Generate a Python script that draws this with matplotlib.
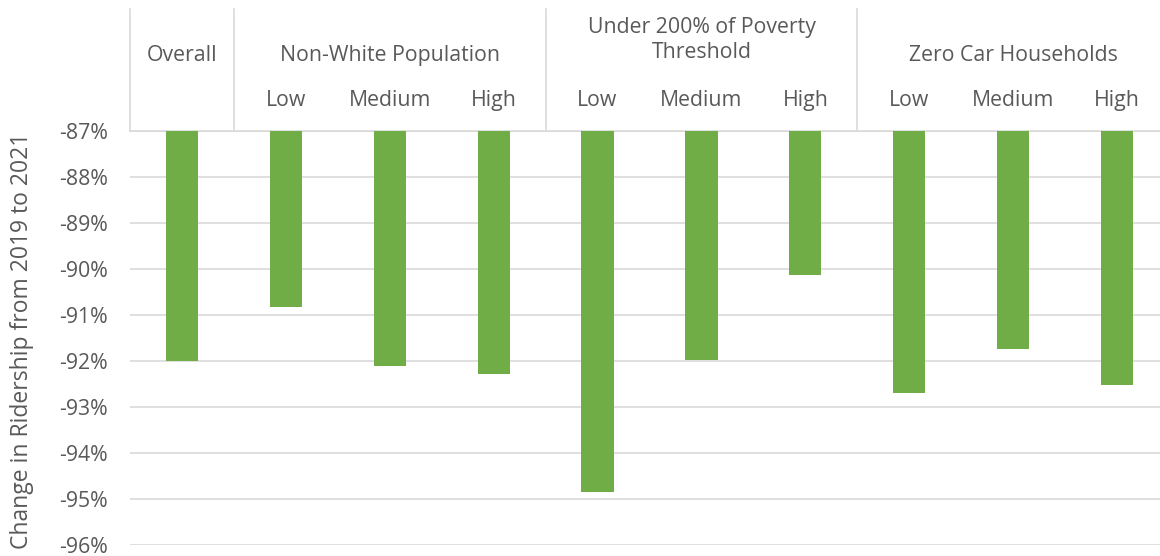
import numpy as np
import matplotlib
matplotlib.use('Agg')
import matplotlib.pyplot as plt
from matplotlib.ticker import FuncFormatter
import matplotlib.transforms as mtransforms

plt.rcParams['font.family'] = ['Open Sans', 'DejaVu Sans']

# --- Data ---
groups = ['Overall', 'Non-White Population', 'Under 200% of Poverty\nThreshold', 'Zero Car Households']
group_sizes = [1, 3, 3, 3]
levels = ['', 'Low', 'Medium', 'High', 'Low', 'Medium', 'High', 'Low', 'Medium', 'High']
values = [-92.0, -90.82, -92.11, -92.28, -94.85, -91.98, -90.12, -92.69, -91.74, -92.53]
y_ticks = [-87, -88, -89, -90, -91, -92, -93, -94, -95, -96]
y_label = 'Change in Ridership from 2019 to 2021'

text_color = '#595959'
grid_color = '#D9D9D9'
bar_color = '#70AD47'

W, H = 1160, 556
fig = plt.figure(figsize=(W / 100, H / 100), dpi=100)
ax = fig.add_axes([130 / W, (H - 545) / H, 1039 / W, 414 / H])

base = max(y_ticks)
x = np.arange(len(values))
ax.bar(x, np.array(values) - base, bottom=base, width=0.31, color=bar_color, zorder=3)

ax.set_xlim(-0.5, len(values) - 0.5)
ax.set_ylim(min(y_ticks), max(y_ticks))
ax.set_yticks(y_ticks)
ax.yaxis.set_major_formatter(FuncFormatter(lambda v, p: f'{v:.0f}%'))
ax.tick_params(axis='y', length=0, pad=16, labelsize=15.3, labelcolor=text_color)
ax.set_xticks([])
ax.grid(axis='y', color=grid_color, linewidth=1.2, zorder=0)
for s in ax.spines.values():
    s.set_visible(False)

# --- Category header above the plot ---
trans = mtransforms.blended_transform_factory(ax.transData, ax.transAxes)
row1 = 1 + (131 - 55) / 414
row2 = 1 + (131 - 101) / 414
line_top = 1 + (131 - 9) / 414

ax.plot([-0.5, len(values) - 0.5], [1, 1], transform=trans, color=grid_color,
        linewidth=1.2, clip_on=False)
start = 0
for name, n in zip(groups, group_sizes):
    ax.plot([start - 0.5, start - 0.5], [1, line_top], transform=trans,
            color=grid_color, linewidth=1.2, clip_on=False)
    centre = start + (n - 1) / 2
    ty = row1
    if '\n' in name:
        ty = 1 + (131 - 40) / 414
    ax.text(centre, ty, name, transform=trans, ha='center', va='center',
            fontsize=15.3, color=text_color, linespacing=1.3)
    start += n

for i, lv in enumerate(levels):
    if lv:
        ax.text(i, row2, lv, transform=trans, ha='center', va='center',
                fontsize=15.3, color=text_color)

fig.text(22 / W, (H - 341) / H, y_label, rotation=90, ha='center', va='center',
         fontsize=16.5, color=text_color)

fig.savefig('out.png', dpi=100)
